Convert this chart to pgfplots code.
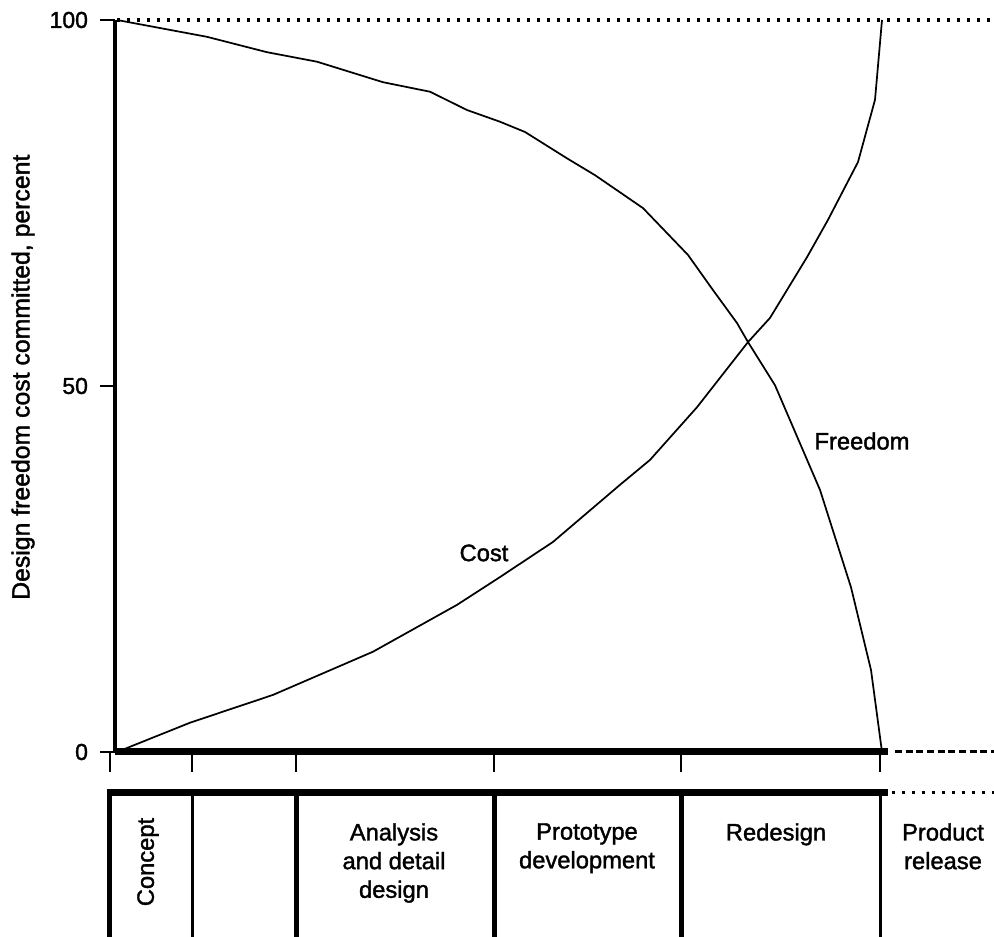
\documentclass[border=0pt]{standalone}
\usepackage{pgfplots}
\pgfplotsset{compat=1.18}
\usepackage{fontspec}
\setmainfont{Liberation Sans}[FakeBold=1.5]
\newcommand\lf{\fontsize{17.8}{21.5}\selectfont}
\newcommand\tf{\fontsize{17.25}{20}\selectfont}
\newcommand\yf{\fontsize{18.6}{22}\selectfont}
\begin{document}
\begin{tikzpicture}
\begin{axis}[
  x=0.75pt, y=5.49pt,
  xmin=115, xmax=888, ymin=0, ymax=100,
  axis x line=bottom, axis y line=left,
  x axis line style={line width=5.25pt,-},
  y axis line style={line width=3pt,-},
  xtick=\empty,
  ytick={0,50,100},
  tick align=outside,
  major tick length=11.25pt,
  tick style={line width=0.8pt, black},
  yticklabel style={font=\tf, xshift=-5.5pt},
  /pgf/number format/assume math mode=true,
  clip=false,
]
% Freedom (descending)
\addplot[black, line width=1.3pt, mark=none] coordinates {
(117,100) (160,98.9) (207,97.7) (267,95.6) (317,94.3) (383,91.5) (430,90.2)
(467,87.7) (500,86.1) (525,84.7) (567,81.1) (595,78.8) (643,74.3) (688,67.9)
(713,63.1) (737,58.6) (748,56.0) (775,50.1) (820,35.8) (851,22.5) (871,11.2) (882,0)
};
% Cost (ascending)
\addplot[black, line width=1.3pt, mark=none] coordinates {
(117,0) (190,4.0) (273,7.8) (373,13.7) (457,20.1) (500,23.9) (553,28.7)
(620,36.5) (650,39.9) (697,47.1) (748,56.0) (770,59.3) (807,67.6) (828,72.7)
(858,80.6) (875,89.1) (882,100)
};
% dotted / dashed extensions
\draw[line width=2.5pt, dash pattern=on 2.5pt off 5pt] (axis cs:117,100) -- (axis cs:994,100);
\draw[line width=2.25pt, dash pattern=on 5.25pt off 2.75pt] (axis cs:895,0) -- (axis cs:994,0);
\draw[line width=2.25pt, dash pattern=on 2.25pt off 5.25pt] (axis cs:892,-5.6) -- (axis cs:994,-5.6);
% x ticks
\pgfplotsinvokeforeach{110,192,296,494,681,880}{
  \draw[line width=0.8pt] (axis cs:#1,0) -- (axis cs:#1,-2.73);
}
% phase band
\draw[line width=5.25pt] (axis cs:107,-5.6) -- (axis cs:888,-5.6);
\pgfplotsinvokeforeach{110,296,494,681}{
  \draw[line width=3.75pt] (axis cs:#1,-5.6) -- (axis cs:#1,-25.27);
}
\pgfplotsinvokeforeach{192,880}{
  \draw[line width=2.25pt] (axis cs:#1,-5.6) -- (axis cs:#1,-25.27);
}
% labels
\node[font=\lf] at (axis cs:484,27.19) {Cost};
\node[font=\lf] at (axis cs:862,42.49) {Freedom};
\node[font=\lf, rotate=90] at (axis cs:148,-15.03) {Concept};
\node[font=\lf, align=center, anchor=north, inner sep=0pt] at (axis cs:394,-9.70) {Analysis\\and detail\\design};
\node[font=\lf, align=center, anchor=north, inner sep=0pt] at (axis cs:587,-9.70) {Prototype\\development};
\node[font=\lf, align=center, anchor=north, inner sep=0pt] at (axis cs:776,-9.70) {Redesign};
\node[font=\lf, align=center, anchor=north, inner sep=0pt] at (axis cs:943,-9.70) {Product\\release};
\node[font=\yf, rotate=90] at (axis cs:23,51.2) {Design freedom cost committed, percent};
\coordinate (bbsw) at (axis cs:0,-25.27);
\coordinate (bbne) at (axis cs:994,102.73);
\end{axis}
\pgfresetboundingbox
\path (bbsw) rectangle (bbne);
\end{tikzpicture}
\end{document}
